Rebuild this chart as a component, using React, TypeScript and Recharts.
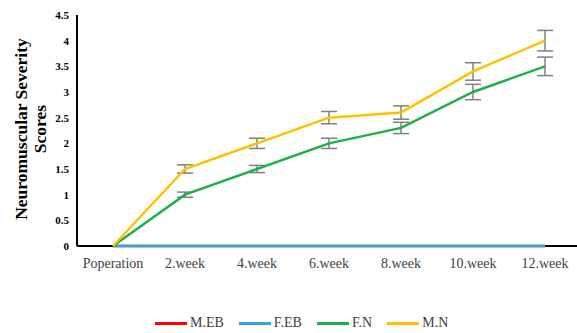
import { LineChart, Line, XAxis, YAxis, ErrorBar, Legend } from 'recharts'

const weeks = ['Poperation', '2.week', '4.week', '6.week', '8.week', '10.week', '12.week']
const mEB = [0, 0, 0, 0, 0, 0, 0]
const fEB = [0, 0, 0, 0, 0, 0, 0]
const fN = [0, 1, 1.5, 2, 2.3, 3, 3.5]
const fNErr = [0, 0.05, 0.07, 0.1, 0.11, 0.15, 0.18]
const mN = [0, 1.5, 2, 2.5, 2.6, 3.4, 4]
const mNErr = [0, 0.08, 0.1, 0.12, 0.13, 0.17, 0.2]
const yTicks = [0, 0.5, 1, 1.5, 2, 2.5, 3, 3.5, 4, 4.5]

const SERIES = [
  { key: 'mEB', label: 'M.EB', color: '#FF0000' },
  { key: 'fEB', label: 'F.EB', color: '#29A9E0' },
  { key: 'fN', label: 'F.N', color: '#1FAF4B' },
  { key: 'mN', label: 'M.N', color: '#FFC000' },
]

const SERIF = '"Liberation Serif", "Times New Roman", serif'

const data = weeks.map((w, i) => ({
  week: w,
  mEB: mEB[i],
  fEB: fEB[i],
  fN: fN[i],
  fNErr: fNErr[i],
  mN: mN[i],
  mNErr: mNErr[i],
}))

// two-line rotated title, centred on the plot height
function AxisTitle() {
  const cy = 129
  return (
    <g fontFamily={SERIF} fontWeight={700} fontSize={17.5} fill="#000">
      <text x={27} y={cy} textAnchor="middle" transform={`rotate(-90, 27, ${cy})`}>
        Neuromuscular Severity
      </text>
      <text x={46} y={cy} textAnchor="middle" transform={`rotate(-90, 46, ${cy})`}>
        Scores
      </text>
    </g>
  )
}

function LegendRow() {
  return (
    <div style={{ display: 'flex', alignItems: 'center', gap: 15, fontFamily: SERIF, fontSize: 14, color: '#404040' }}>
      {SERIES.map(s => (
        <div key={s.key} style={{ display: 'flex', alignItems: 'center', gap: 3 }}>
          <div style={{ width: 32, height: 3, background: s.color }} />
          {s.label}
        </div>
      ))}
    </div>
  )
}

export default function App() {
  return (
    <div style={{ position: 'absolute', left: 0, top: 0, width: 577, height: 333, overflow: 'hidden', background: '#fff' }}>
      <LineChart width={581} height={333} data={data} margin={{ top: 15, right: 0, bottom: 57, left: 0 }}>
        <XAxis
          dataKey="week"
          height={30}
          padding={{ left: 36, right: 36 }}
          axisLine={{ stroke: '#000', strokeWidth: 2 }}
          tickLine={false}
          tickMargin={6}
          tick={{ fontFamily: SERIF, fontSize: 14, fill: '#404040' }}
          interval={0}
        />
        <YAxis
          width={77}
          domain={[0, 4.5]}
          ticks={yTicks}
          axisLine={{ stroke: '#000', strokeWidth: 2 }}
          tickLine={false}
          tick={{ fontFamily: SERIF, fontSize: 11, fontWeight: 700, fill: '#000' }}
          label={{ content: AxisTitle }}
        />
        <Legend
          layout="horizontal"
          verticalAlign="middle"
          align="center"
          wrapperStyle={{ top: 315, left: 155, width: 380 }}
          content={LegendRow}
        />
        <Line dataKey="mEB" name="M.EB" stroke="#FF0000" strokeWidth={2.5} dot={false} zIndex={600} isAnimationActive={false} />
        <Line dataKey="fEB" name="F.EB" stroke="#29A9E0" strokeWidth={2.5} dot={false} zIndex={600} isAnimationActive={false} />
        <Line dataKey="fN" name="F.N" stroke="#1FAF4B" strokeWidth={2.5} dot={false} zIndex={600} isAnimationActive={false}>
          <ErrorBar dataKey="fNErr" direction="y" width={8} stroke="#808080" strokeWidth={1.5} isAnimationActive={false} />
        </Line>
        <Line dataKey="mN" name="M.N" stroke="#FFC000" strokeWidth={2.5} dot={false} zIndex={600} isAnimationActive={false}>
          <ErrorBar dataKey="mNErr" direction="y" width={8} stroke="#808080" strokeWidth={1.5} isAnimationActive={false} />
        </Line>
      </LineChart>
    </div>
  )
}
